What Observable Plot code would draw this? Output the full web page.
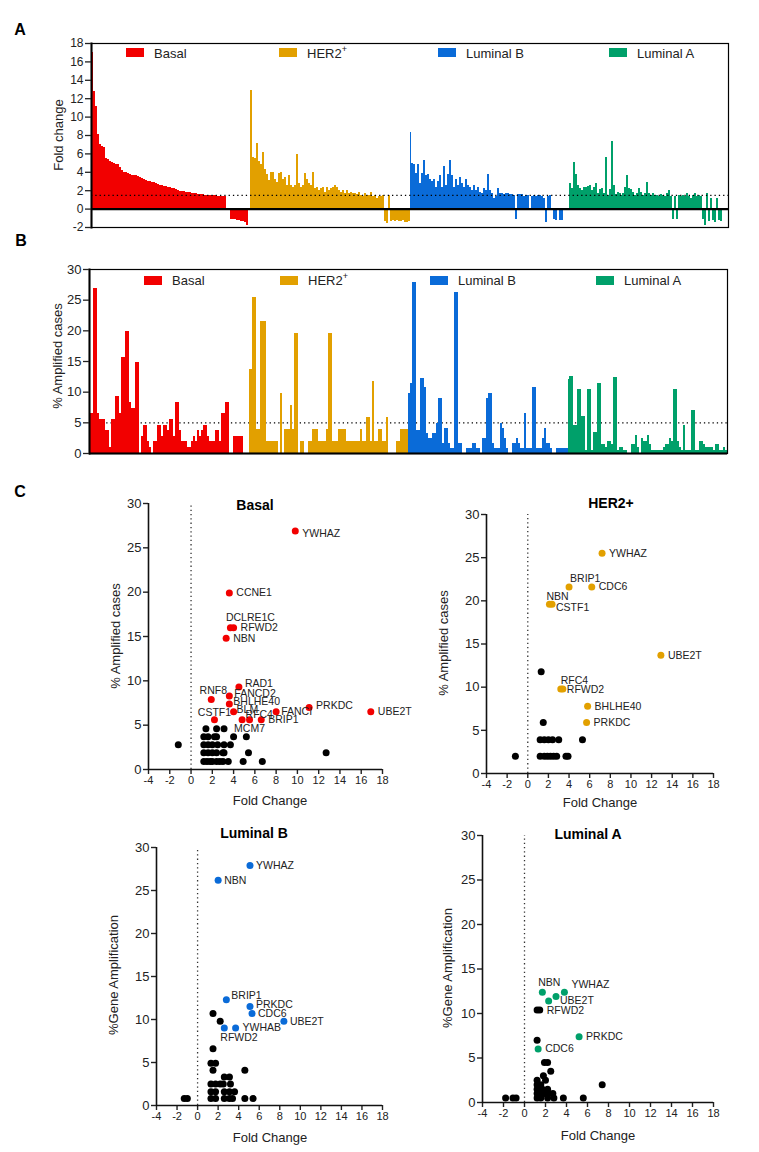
<!DOCTYPE html>
<html><head><meta charset="utf-8">
<script src="https://cdn.jsdelivr.net/npm/d3@7"></script>
<script src="https://cdn.jsdelivr.net/npm/@observablehq/plot@0.6"></script>
<style>
body{margin:0;background:#fff;}
#root{position:relative;width:759px;height:1152px;font-family:"Liberation Sans",Arial,sans-serif;color:#222;overflow:hidden;background:#fff}
.t{position:absolute;white-space:nowrap;line-height:1}
</style></head><body><div id="root"></div><script>
// ---------- DATA ----------
const subtypes = ["Basal", "HER2+", "Luminal B", "Luminal A"];
const subtypeColors = ["#f20000", "#e2a000", "#0a6bd8", "#00a06a"];

// Panel A: fold change per gene, grouped by subtype
const foldBasal = [17,12.8,11.2,8.1,7.0,6.8,6.7,5.5,5.4,5.2, 5.1,5.0,4.9,4.8,4.5,4.2,4.0,4.0,3.9,3.8, 3.7,3.6,3.6,3.5,3.4,3.3,3.2,3.1,3.0,3.0, 2.9,2.9,2.8,2.7,2.6,2.55,2.5,2.45,2.4,2.3, 2.25,2.2,2.1,2.0,1.95,1.9,1.9,1.85,1.8,1.8, 1.75,1.7,1.65,1.6,1.6,1.55,1.55,1.5,1.5,1.5, 1.45,1.45,1.45,1.4,1.4,1.4,1.4,1.4, 0,0,-1.1,-1.1,-1.15,-1.2,-1.25,-1.3,-1.4,-1.5,-1.8,0];
const foldHER2 = [12.9,5.6,5.5,7.1,5.2,4.9,6.2,4.3,3.8,3.1, 4.0,4.0,3.2,2.9,3.9,4.0,3.2,3.4,2.6,3.7, 2.6,2.4,2.6,5.9,2.8,2.4,2.6,3.9,3.2,2.8, 2.6,4.0,2.2,2.4,2.0,2.2,2.4,1.8,2.4,2.0, 2.2,2.4,2.6,2.4,2.0,1.8,2.0,1.7,2.0,1.7, 1.8,1.7,1.7,1.6,1.8,1.5,1.4,1.7,1.5,1.5, 1.8,1.4,1.5,1.2,1.4,1.4,1.5, -1.3,-1.6,1.5,-1.3,-1.2,-1.3,-1.2,-1.3,-1.4,-1.2,-1.5,-1.5,-1.4];
const foldLumB = [8.3,5.0,4.8,3.9,4.8,2.8,3.9,5.3,3.6,3.8, 3.2,3.0,3.2,2.4,3.0,3.6,2.4,4.6,2.6,3.8, 5.3,3.6,2.4,3.2,2.6,3.4,2.8,2.4,3.2,2.6, 2.4,2.0,2.6,2.0,2.4,1.8,1.7,2.2,2.0,3.8, 2.0,1.7,1.2,1.4,2.2, 1.7,1.7,1.6,1.7,1.7,1.6,1.6,1.5,-1.1,1.6, 1.6,1.6,1.4,1.5,1.45,0,1.4,1.5,1.4,1.5, 1.45,1.4,1.2,-1.5,1.4,1.45,0,-1.1,-1.2,0, -1.2,-1.2,0,0,0];
const foldLumA = [2.8,2.2,5.1,3.8,2.6,2.2,2.0,2.4,2.4,2.5, 2.6,2.0,2.4,2.8,1.7,2.1,2.2,1.7,5.6,1.5, 2.1,7.3,2.6,1.6,1.8,1.7,1.5,1.7,2.4,3.6, 2.2,2.1,1.8,1.5,1.7,2.2,1.8,1.5,1.7,2.9, 1.7,1.5,1.7,1.5,1.5,1.4,1.6,1.5,1.4,1.7, 2.0,1.4,-1.1,1.4,-1.1,1.5,1.4,1.5,1.4,1.7, 1.4,1.2,1.5,1.7,1.4,1.5,1.4,-1.1,-1.8,1.7, -1.3,1.2,-1.2,-1.5,1.2,-1.2,-1.3,0,0,0];
const foldTicks = [-2,0,2,4,6,8,10,12,14,16,18];
const foldThreshold = 1.5;

// Panel B: % amplified cases per gene
const ampBasal = [6.5,6.5,26.9,26.9,6.5,5.6,5.6,5.6,3.7,3.7, 0.9,5.6,5.6,9.3,9.3,6.5,15.7,15.7,19.9,19.9, 8.3,7.4,7.4,14.8,14.8,0,2.8,4.6,4.6,1.9, 0.9,0,1.9,1.9,4.6,4.6,2.8,4.6,4.6,3.7, 5.6,5.6,2.8,8.3,8.3,3.7,1.9,1.9,1.9,0.9, 0.9,1.9,2.8,1.9,3.7,2.8,3.7,4.6,4.6,2.8, 1.9,1.9,1.9,3.7,3.7,1.9,6.5,6.5,8.3,8.3, 0,0,2.8,2.8,2.8,2.8,2.8,0,0,0];
const ampHER2 = [13.7,13.7,25.5,25.5,3.9,3.9,21.6,21.6,21.6,2.0, 2.0,2.0,2.0,2.0,2.0,0,9.8,0,3.9,3.9, 3.9,7.8,3.9,19.6,19.6,0,2.0,2.0,0,0, 2.0,2.0,3.9,3.9,3.9,2.0,2.0,2.0,2.0,3.9, 19.6,19.6,2.0,2.0,2.0,3.9,3.9,3.9,3.9,2.0, 2.0,2.0,2.0,2.0,2.0,2.0,3.9,2.0,2.0,5.9, 5.9,2.0,11.8,2.0,2.0,3.9,3.9,2.0,2.0,5.9, 0,0,0,0,2.0,2.0,3.9,3.9,3.9,3.9];
const ampLumB = [9.8,11.4,27.9,27.9,3.7,3.7,12.3,12.3,10.7,3.3, 2.5,2.5,3.3,3.3,4.9,9.0,9.0,1.6,4.1,4.1, 1.6,0.8,0.8,26.2,26.2,1.6,1.6,0,0,0.8, 0.8,0.8,1.6,1.6,0.8,0.8,0,2.5,2.5,9.0, 9.8,9.8,1.6,0.8,0.8,0.8,4.9,4.1,2.5,0.8, 0,0,1.6,1.6,2.5,1.6,0.8,0.8,6.6,0.8, 0.8,0.8,10.7,10.7,0.8,0.8,0.8,2.5,4.1,1.6, 1.6,0.8,0,0,0.8,0.8,0.8,0.8,0.8,0.8];
const ampLumA = [12.0,12.5,12.5,4.5,4.5,10.4,10.4,6.0,6.0,0.5, 10.4,10.4,0.5,3.5,3.5,11.4,11.4,1.5,1.5,1.0, 2.0,2.0,1.5,12.4,12.4,0.5,1.0,1.0,0.5,0.5, 0,0,1.5,1.5,3.0,1.0,0,2.5,2.0,2.0, 3.0,1.5,0.5,0.5,0.5,0.5,0.5,0.5,1.0,1.5, 1.5,2.5,2.0,10.4,10.4,2.0,1.0,0.5,4.5,0.5, 0.5,0.5,7.0,7.0,0.5,0.5,2.0,2.0,1.5,1.0, 1.0,1.0,1.0,0.5,1.5,1.5,0.5,0.5,1.0,0.5];
const ampTicks = [0,5,10,15,20,25,30];
const ampThreshold = 5;

// Panel C scatter data
const scatterXTicks = [-4,-2,0,2,4,6,8,10,12,14,16,18];
const scatterYTicks = [0,5,10,15,20,25,30];

const basalGenes = ["YWHAZ","CCNE1","DCLRE1C","RFWD2","NBN","RAD1","RNF8","FANCD2","BHLHE40","BLM","CSTF1","MCM7","RFC4","BRIP1","FANCI","PRKDC","UBE2T"];
const basalGeneFC = [9.8,3.6,3.7,4.0,3.3,4.5,1.9,3.6,3.6,4.0,2.2,4.8,5.5,6.6,8.0,11.1,16.9];
const basalGeneAmp = [26.9,19.9,16.0,16.0,14.8,9.3,7.9,8.3,7.4,6.5,5.6,5.6,5.6,5.6,6.5,7.0,6.5];
const basalOtherFC = [1.4,2.4,3.1, 1.2,1.6,2.2,2.4,4.0,5.2, -1.2,1.2,1.6,2.0,2.5,3.1,3.7, 1.2,1.6,2.0,2.4,3.0,3.1,5.4,12.7, 1.2,1.5,1.8,2.0,2.4,2.7,3.0,3.5,4.9,6.7];
const basalOtherAmp = [4.6,4.6,4.6, 3.7,3.7,3.7,3.7,3.7,3.7, 2.8,2.8,2.8,2.8,2.8,2.8,2.8, 1.9,1.9,1.9,1.9,1.9,1.9,1.9,1.9, 0.9,0.9,0.9,0.9,0.9,0.9,0.9,0.9,0.9,0.9];

const her2Genes = ["YWHAZ","BRIP1","CDC6","NBN","CSTF1","UBE2T","RFC4","RFWD2","BHLHE40","PRKDC"];
const her2GeneFC = [7.2,4.0,6.2,2.1,2.35,12.9,3.2,3.4,5.8,5.7];
const her2GeneAmp = [25.5,21.6,21.6,19.6,19.6,13.7,9.8,9.8,7.8,5.9];
const her2OtherFC = [1.3,1.5, 1.2,1.6,2.0,2.4,3.0,5.3, -1.2,1.2,1.6,1.9,2.2,2.5,2.8,3.7,3.9];
const her2OtherAmp = [11.8,5.9, 3.9,3.9,3.9,3.9,3.9,3.9, 2.0,2.0,2.0,2.0,2.0,2.0,2.0,2.0,2.0];

const lumBGenes = ["YWHAZ","NBN","BRIP1","PRKDC","CDC6","UBE2T","YWHAB","RFWD2"];
const lumBGeneFC = [5.1,2.0,2.8,5.1,5.3,8.4,3.7,2.6];
const lumBGeneAmp = [27.9,26.2,12.3,11.5,10.7,9.8,9.0,9.0];
const lumBOtherFC = [1.5,2.2,1.5, 1.3,1.75, 1.5,4.6, 2.6,3.1, 1.3,1.75,2.2,2.5,3.2, 1.3,1.75,2.6,3.1,3.6, -1.3,-1.0,1.3,1.75,2.6,3.1,3.4,4.6,5.4];
const lumBOtherAmp = [10.7,9.8,6.6, 4.9,4.9, 4.1,4.1, 3.3,3.3, 2.5,2.5,2.5,2.5,2.5, 1.6,1.6,1.6,1.6,1.6, 0.8,0.8,0.8,0.8,0.8,0.8,0.8,0.8,0.8];

const lumAGenes = ["NBN","YWHAZ","UBE2T","","PRKDC","CDC6"];
const lumAGeneFC = [1.7,3.8,3.0,2.3,5.2,1.3];
const lumAGeneAmp = [12.4,12.4,11.9,11.4,7.4,6.0];
const lumABlackGenes = ["RFWD2"];
const lumABlackFC = [1.45];
const lumABlackAmp = [10.4];
const lumAOtherFC = [1.2, 1.2, 1.9,2.2, 2.5, 1.8, 1.2,2.0, 1.2,1.55,7.4, 1.2,1.7,2.2, 1.2,1.55,1.9,2.3,2.7, -1.8,-1.1,-0.8,1.2,1.55,2.2,2.8,3.7,5.6];
const lumAOtherAmp = [10.4, 7.0, 4.5,4.5, 3.5, 3.0, 2.5,2.5, 2.0,2.0,2.0, 1.5,1.5,1.5, 1.0,1.0,1.0,1.0,1.0, 0.5,0.5,0.5,0.5,0.5,0.5,0.5,0.5,0.5];

// ---------- LABEL PLACEMENT (anchor, dx, dy) ----------
const labelPlacement = {
  basal: {YWHAZ:["start",7,3], CCNE1:["start",7,0], DCLRE1C:["middle",20,-10], RFWD2:["start",7,0], NBN:["start",7,0], RAD1:["start",6,-3], RNF8:["middle",2,-9], FANCD2:["start",5,-2.5], BHLHE40:["start",4,-2], BLM:["start",3,-2], CSTF1:["middle",0,-7], MCM7:["start",-8,9], RFC4:["start",-4,-5], BRIP1:["start",7,0], FANCI:["start",5,0], PRKDC:["start",7,-2], UBE2T:["start",7,0]},
  her2: {YWHAZ:["start",7,0], BRIP1:["start",1,-8], CDC6:["start",7,0], NBN:["start",-3,-8], CSTF1:["start",4,3], UBE2T:["start",7,0], RFC4:["start",0,-8], RFWD2:["start",4,1], BHLHE40:["start",7,0], PRKDC:["start",7,0]},
  lumB: {YWHAZ:["start",6,0], NBN:["start",6,0], BRIP1:["start",5,-4], PRKDC:["start",6,-2], CDC6:["start",6,0], UBE2T:["start",6,0], YWHAB:["start",7,0], RFWD2:["start",-4,10]},
  lumA: {NBN:["middle",7,-10], YWHAZ:["start",7,-8], UBE2T:["start",4,4], PRKDC:["start",7,0], CDC6:["start",7,0], RFWD2:["start",7,1]}
};

// ---------- BUILD ----------
const FONT = '"Liberation Sans", Arial, sans-serif';
const root = document.getElementById("root");
const baseStyle = {background: "none", overflow: "visible", fontFamily: FONT, color: "#222"};
function place(svg, left, top) {
  svg.style.position = "absolute";
  svg.style.left = left + "px";
  svg.style.top = top + "px";
  svg.style.maxWidth = "none";
  root.appendChild(svg);
}
function txt(html, x, y, o = {}) {
  const d = document.createElement("div");
  d.className = "t";
  d.innerHTML = html;
  d.style.left = x + "px";
  d.style.top = y + "px";
  d.style.fontSize = (o.size || 13) + "px";
  d.style.fontWeight = o.bold ? "bold" : "normal";
  d.style.color = o.color || "#222";
  const tx = o.anchor === "start" ? "0" : "-50%";
  d.style.transform = `translate(${tx},-50%)` + (o.rotate ? " rotate(-90deg)" : "");
  root.appendChild(d);
}
function swatch(x, y, w, h, c) {
  const d = document.createElement("div");
  d.style.cssText = `position:absolute;left:${x}px;top:${y}px;width:${w}px;height:${h}px;background:${c}`;
  root.appendChild(d);
}
function toRows(groups) {
  let i = 0;
  return groups.flatMap((vals, si) => vals.map(v => ({i: i++, v, s: subtypes[si]})));
}

// Panel A
const foldRows = toRows([foldBasal, foldHER2, foldLumB, foldLumA]);
place(Plot.plot({
  width: 759, height: 235, marginLeft: 91, marginRight: 31, marginTop: 43, marginBottom: 8,
  style: baseStyle,
  x: {type: "band", domain: foldRows.map(d => d.i), padding: 0, axis: null},
  y: {domain: [-2, 18]},
  color: {domain: subtypes, range: subtypeColors},
  marks: [
    Plot.barY(foldRows, {x: "i", y: "v", fill: "s", shapeRendering: "crispEdges"}),
    Plot.ruleY([foldThreshold], {stroke: "#000", strokeWidth: 1.3, strokeDasharray: "1.3,3"}),
    Plot.ruleY([0], {stroke: "#000", strokeWidth: 2.2}),
    Plot.frame({stroke: "#000", strokeWidth: 1.2}),
    Plot.frame({anchor: "left", stroke: "#000", strokeWidth: 2}),
    Plot.axisY({ticks: foldTicks, tickSize: 6, tickPadding: 2, fontSize: 12, tickFormat: d => String(d), label: null, strokeWidth: 1.3})
  ]
}), 0, 0);

// Panel B
const ampRows = toRows([ampBasal, ampHER2, ampLumB, ampLumA]);
place(Plot.plot({
  width: 759, height: 225, marginLeft: 89, marginRight: 32, marginTop: 34, marginBottom: 7,
  style: baseStyle,
  x: {type: "band", domain: ampRows.map(d => d.i), padding: 0, axis: null},
  y: {domain: [0, 30]},
  color: {domain: subtypes, range: subtypeColors},
  marks: [
    Plot.ruleY([ampThreshold], {stroke: "#000", strokeWidth: 1.3, strokeDasharray: "1.3,3"}),
    Plot.barY(ampRows, {x: "i", y: "v", fill: "s", shapeRendering: "crispEdges"}),
    Plot.frame({stroke: "#000", strokeWidth: 1.2}),
    Plot.frame({anchor: "left", stroke: "#000", strokeWidth: 2}),
    Plot.ruleY([0], {stroke: "#000", strokeWidth: 2.2}),
    Plot.axisY({ticks: ampTicks, tickSize: 6, tickPadding: 2, fontSize: 13, tickFormat: d => String(d), label: null, strokeWidth: 1.3})
  ]
}), 0, 235);

// Scatter panels
function scatter(cfg) {
  const colored = cfg.genes.map((g, k) => ({g, x: cfg.fc[k], y: cfg.amp[k]}));
  const blackLab = (cfg.blackGenes || []).map((g, k) => ({g, x: cfg.blackFC[k], y: cfg.blackAmp[k]}));
  const others = cfg.otherFC.map((x, k) => ({x, y: cfg.otherAmp[k]}));
  const labelMarks = [...colored, ...blackLab].filter(d => d.g).map(d => {
    const [anchor, dx, dy] = cfg.place[d.g];
    return Plot.text([d], {x: "x", y: "y", text: "g", textAnchor: anchor, dx, dy, fontSize: 10.5, fill: "#222"});
  });
  return Plot.plot({
    width: cfg.w, height: cfg.h, marginLeft: cfg.ml, marginRight: cfg.mr, marginTop: cfg.mt, marginBottom: cfg.mb,
    style: baseStyle,
    x: {domain: [-4, 18]},
    y: {domain: [0, 30]},
    marks: [
      Plot.ruleX([0], {y1: 0, y2: 30, stroke: "#333", strokeWidth: 1.3, strokeDasharray: "1.3,3"}),
      Plot.axisY({ticks: scatterYTicks, tickSize: 5, tickPadding: 2, fontSize: 13, tickFormat: d => String(d), label: null, strokeWidth: 1.4}),
      Plot.axisX({ticks: scatterXTicks, tickSize: 5, tickPadding: 2, fontSize: 11, tickFormat: d => String(d), label: null, strokeWidth: 1.4}),
      Plot.ruleX([-4], {y1: 0, y2: 30, stroke: "#111", strokeWidth: 1.6}),
      Plot.ruleY([0], {x1: -4, x2: 18, stroke: "#111", strokeWidth: 1.6}),
      Plot.dot(others, {x: "x", y: "y", r: 3.5, fill: "#000"}),
      Plot.dot(blackLab, {x: "x", y: "y", r: 3.5, fill: "#000"}),
      Plot.dot(colored, {x: "x", y: "y", r: 3.5, fill: cfg.color}),
      ...labelMarks
    ]
  });
}

place(scatter({genes: basalGenes, fc: basalGeneFC, amp: basalGeneAmp, otherFC: basalOtherFC, otherAmp: basalOtherAmp,
  color: subtypeColors[0], place: labelPlacement.basal, w: 400, h: 310, ml: 148, mr: 18, mt: 13, mb: 31}), 0, 490);
place(scatter({genes: her2Genes, fc: her2GeneFC, amp: her2GeneAmp, otherFC: her2OtherFC, otherAmp: her2OtherAmp,
  color: subtypeColors[1], place: labelPlacement.her2, w: 340, h: 310, ml: 86, mr: 27, mt: 24, mb: 27}), 400, 490);
place(scatter({genes: lumBGenes, fc: lumBGeneFC, amp: lumBGeneAmp, otherFC: lumBOtherFC, otherAmp: lumBOtherAmp,
  color: subtypeColors[2], place: labelPlacement.lumB, w: 400, h: 310, ml: 156, mr: 18, mt: 27, mb: 25}), 0, 820);
place(scatter({genes: lumAGenes, fc: lumAGeneFC, amp: lumAGeneAmp, otherFC: lumAOtherFC, otherAmp: lumAOtherAmp,
  blackGenes: lumABlackGenes, blackFC: lumABlackFC, blackAmp: lumABlackAmp,
  color: subtypeColors[3], place: labelPlacement.lumA, w: 340, h: 310, ml: 82, mr: 27, mt: 15, mb: 28}), 400, 820);

// ---------- TEXT / LEGENDS ----------
txt("A", 20, 30, {size: 16, bold: true, color: "#000"});
txt("B", 21, 241, {size: 16, bold: true, color: "#000"});
txt("C", 20, 492, {size: 16, bold: true, color: "#000"});

txt("Fold change", 58, 135, {rotate: true});
txt("% Amplified cases", 57, 356, {rotate: true});

const legendNames = ["Basal", "HER2<sup style='font-size:9px;position:relative;top:-1px'>+</sup>", "Luminal B", "Luminal A"];
const legendAX = [126, 279, 438, 609];
const legendBX = [144, 280, 430, 596];
legendNames.forEach((n, k) => {
  swatch(legendAX[k], 48, 18, 9, subtypeColors[k]);
  txt(n, legendAX[k] + 28, 53, {anchor: "start"});
  swatch(legendBX[k], 276, 18, 9, subtypeColors[k]);
  txt(n, legendBX[k] + 28, 280, {anchor: "start"});
});

txt("Basal", 255, 505, {size: 14, bold: true, color: "#000"});
txt("HER2+", 611, 503, {size: 14, bold: true, color: "#000"});
txt("Luminal B", 254, 833, {size: 14, bold: true, color: "#000"});
txt("Luminal A", 588, 834, {size: 14, bold: true, color: "#000"});

txt("% Amplified cases", 115, 636, {rotate: true});
txt("% Amplified cases", 443, 643, {rotate: true});
txt("%Gene Amplification", 113, 975, {rotate: true});
txt("%Gene Amplification", 447, 968, {rotate: true});

txt("Fold Change", 270, 800);
txt("Fold Change", 600, 802);
txt("Fold Change", 270, 1137);
txt("Fold Change", 598, 1135);
</script></body></html>
